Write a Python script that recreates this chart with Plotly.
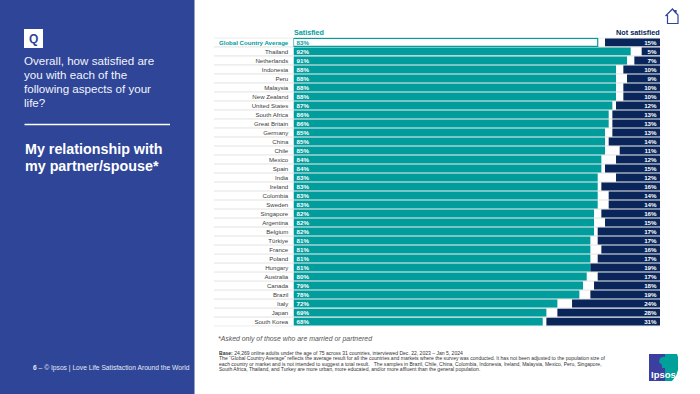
import plotly.graph_objects as go

countries = ["Global Country Average","Thailand","Netherlands","Indonesia","Peru","Malaysia","New Zealand","United States","South Africa","Great Britain","Germany","China","Chile","Mexico","Spain","India","Ireland","Colombia","Sweden","Singapore","Argentina","Belgium","Türkiye","France","Poland","Hungary","Australia","Canada","Brazil","Italy","Japan","South Korea"]
satisfied = [83,92,91,88,88,88,88,87,86,86,85,85,85,84,84,83,83,83,83,82,82,82,81,81,81,81,80,79,78,72,69,68]
not_satisfied = [15,5,7,10,9,10,10,12,13,13,13,14,11,12,15,12,16,14,14,16,15,17,17,16,17,19,17,18,19,24,28,31]

question_lines = ["Overall, how satisfied are","you with each of the","following aspects of your","life?"]
topic_lines = ["My relationship with","my partner/spouse*"]
base_lines = [
 "<b>Base:</b> 24,269 online adults under the age of 75 across 31 countries, interviewed Dec. 22, 2023 – Jan 5, 2024",
 "The “Global Country Average” reflects the average result for all the countries and markets where the survey was conducted. It has not been adjusted to the population size of",
 "each country or market and is not intended to suggest a total result.   The samples in Brazil, Chile, China, Colombia, Indonesia, Ireland, Malaysia, Mexico, Peru, Singapore,",
 "South Africa, Thailand, and Turkey are more urban, more educated, and/or more affluent than the general population.",
]

W, H = 700, 394
FONT = "Liberation Sans, Arial, sans-serif"
TEAL, NAVY, PANEL = "#009d9c", "#0a2559", "#2e4598"

def px(x): return x / W
def py(y): return 1 - y / H

def label(x, y, text, size, color, anchor="left", family=FONT):
    return dict(xref="paper", yref="paper", x=px(x), y=py(y), text=text, showarrow=False,
                xanchor=anchor, yanchor="middle", align=anchor,
                font=dict(size=size, color=color, family=family), borderpad=0, borderwidth=0)

def box(x0, y0, x1, y1, fill, line=None):
    return dict(type="rect", xref="paper", yref="paper", x0=px(x0), x1=px(x1), y0=py(y0), y1=py(y1),
                fillcolor=fill, line=dict(width=0), layer="below")

def path(points, fill=None, line=None, width=0, layer="above"):
    d = "M " + " L ".join(f"{px(a):.5f},{py(b):.5f}" for a, b in points) + (" Z" if fill else "")
    return dict(type="path", xref="paper", yref="paper", path=d,
                fillcolor=fill if fill else "rgba(0,0,0,0)",
                line=dict(color=line if line else "rgba(0,0,0,0)", width=width), layer=layer)

fig = go.Figure()
fig.add_bar(y=countries, x=satisfied, orientation="h", name="Satisfied",
            marker=dict(color=["#ffffff"] + [TEAL] * (len(satisfied) - 1),
                        line=dict(color=TEAL, width=[1.2] + [0] * (len(satisfied) - 1))),
            text=[f"{v}%" for v in satisfied], textposition="inside", insidetextanchor="start",
            textangle=0, constraintext="none",
            textfont=dict(size=6.2, family=FONT, color=[TEAL] + ["#ffffff"] * (len(satisfied) - 1), weight="bold"))
fig.add_bar(y=countries, x=not_satisfied, base=[100 - v for v in not_satisfied], orientation="h", name="Not satisfied",
            marker=dict(color=NAVY, line=dict(width=0)),
            text=[f"{v}%" for v in not_satisfied], textposition="inside", insidetextanchor="end",
            textangle=0, constraintext="none",
            textfont=dict(size=6.2, family=FONT, color="#ffffff", weight="bold"))

ticktext = [f'<b><span style="color:{TEAL}">{c}</span></b>' if i == 0 else c for i, c in enumerate(countries)]

shapes = [box(0, 0, 194.5, H, PANEL), box(24, 29, 43, 48, "#ffffff")]
for yy in [i - 0.5 for i in range(len(countries) + 1)]:
    shapes.append(dict(type="line", xref="paper", yref="y", x0=px(214), x1=px(659), y0=yy, y1=yy,
                       line=dict(color="#dcdcdc", width=0.8), layer="below"))
shapes.append(dict(type="line", xref="paper", yref="paper", x0=px(24.5), x1=px(170), y0=py(124.5), y1=py(124.5),
                   line=dict(color="#ffffff", width=1.3), layer="above"))
# home icon
shapes.append(path([(667.5,15),(667.5,23.5),(678,23.5),(678,15),(676,13),(676,10.5),(675,10.5),(675,12),(672.5,9),(665.5,16)],
                   line="#2e4598", width=1.2))
# Ipsos logo
shapes.append(box(649, 354, 665, 381, "#3c3f9f"))
shapes.append(path([(665,354),(677,354),(678,357),(678,370),(676,376),(672,381),(665,381)], fill="#00a19a", layer="below"))
shapes.append(path([(660,358),(664,356.5),(667,358),(668,362),(666,365),(666,368),(662,368),(662,365),(659,362)], fill="#00a19a", layer="below"))

ann = [label(33.5, 39, "<b>Q</b>", 12, "#2e4598", "center")]
for i, t in enumerate(question_lines):
    ann.append(label(24, 60 + i * 14.2, t, 11.6, "#f2f4fa"))
for i, t in enumerate(topic_lines):
    ann.append(label(24.5, 148.5 + i * 17.3, f"<b>{t}</b>", 14.3, "#ffffff"))
ann.append(label(33, 367.5, "<b>6</b> – © Ipsos | Love Life Satisfaction Around the World", 6.7, "#e6e9f4"))
ann.append(label(294, 32, "<b>Satisfied</b>", 7.2, TEAL))
ann.append(label(659.5, 32, "<b>Not satisfied</b>", 7.3, NAVY, "right"))
ann.append(label(218, 338.7, "<i>*Asked only of those who are married or partnered</i>", 6.9, "#555555"))
for i, t in enumerate(base_lines):
    ann.append(label(218.5, 353 + i * 5.3, t, 5.05, "#333333"))
ann.append(label(663.5, 374.5, "<b>Ipsos</b>", 9.5, "#ffffff", "center"))

fig.update_layout(
    width=W, height=H, margin=dict(l=0, r=0, t=0, b=0), autosize=False,
    paper_bgcolor="#ffffff", plot_bgcolor="rgba(0,0,0,0)", showlegend=False,
    barmode="overlay", bargap=0.12,
    font=dict(family=FONT),
    shapes=shapes, annotations=ann,
    xaxis=dict(domain=[px(293.5), px(660)], range=[0, 100], visible=False, fixedrange=True),
    yaxis=dict(domain=[py(326.5), py(37.5)], autorange="reversed", type="category",
               categoryorder="array", categoryarray=countries, tickmode="array", tickvals=countries,
               ticktext=ticktext, ticks="outside", ticklen=3, tickcolor="rgba(0,0,0,0)",
               tickfont=dict(size=6.1, color="#404040", family=FONT),
               showgrid=False, zeroline=False, showline=False, automargin=False, fixedrange=True),
)
fig.write_html("out.html", config=dict(displayModeBar=False),
               post_script="document.body.style.margin='0';")
